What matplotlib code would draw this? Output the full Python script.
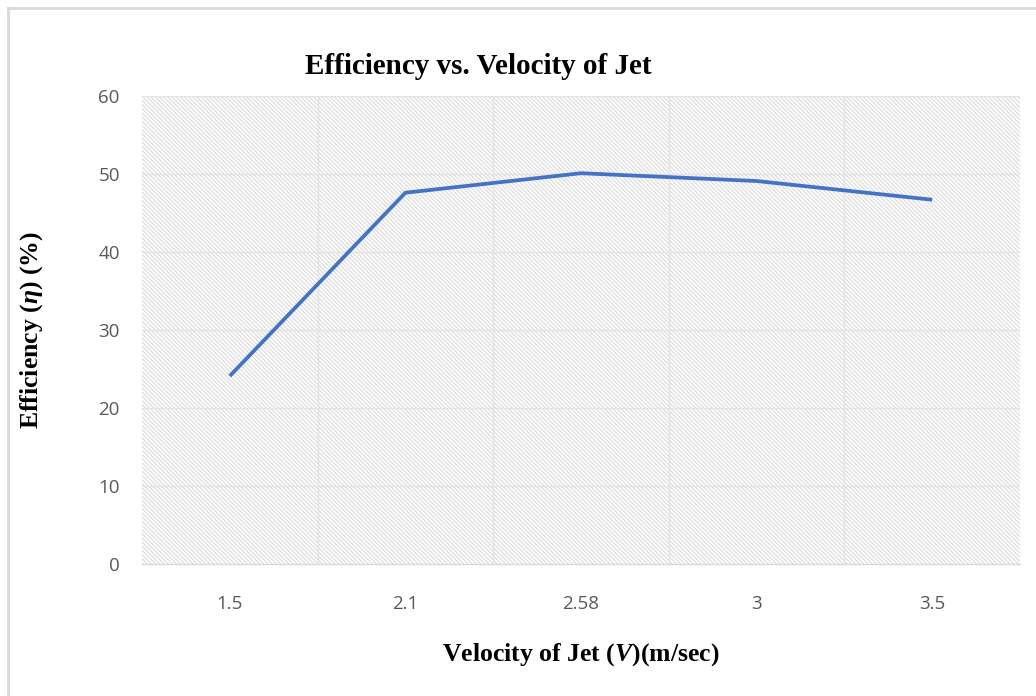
import matplotlib
matplotlib.use("Agg")
import matplotlib.pyplot as plt
from matplotlib.lines import Line2D

# Data
velocity = ["1.5", "2.1", "2.58", "3", "3.5"]
efficiency = [24.1, 47.6, 50.1, 49.1, 46.7]
y_ticks = [0, 10, 20, 30, 40, 50, 60]

plt.rcParams['mathtext.fontset'] = 'custom'
plt.rcParams['mathtext.it'] = 'Liberation Serif:italic:bold'
plt.rcParams['mathtext.rm'] = 'Liberation Serif:bold'
plt.rcParams['hatch.color'] = '#dadada'
plt.rcParams['hatch.linewidth'] = 0.8

W, H = 1036, 696
fig = plt.figure(figsize=(W / 100, H / 100), dpi=100)
ax = fig.add_axes([142 / W, 1 - 564 / H, 878 / W, 468 / H])

# Hatched plot area
ax.set_facecolor('white')
ax.patch.set_hatch('\\' * 8)
ax.patch.set_edgecolor('#dadada')
ax.patch.set_linewidth(0)

x = list(range(len(velocity)))
ax.plot(x, efficiency, color='#4472C4', linewidth=2.7, solid_capstyle='butt', zorder=3)

ax.set_xlim(-0.5, len(velocity) - 0.5)
ax.set_ylim(0, 60)
ax.set_yticks(y_ticks)
ax.set_xticks(x)
ax.set_xticklabels(velocity)

# grid: horizontal at major ticks, vertical at category boundaries
for yv in y_ticks[1:]:
    ax.axhline(yv, color='#e3e3e3', linewidth=1.0, zorder=1)
for b in range(1, len(velocity)):
    ax.axvline(b - 0.5, color='#e3e3e3', linewidth=1.0, zorder=1)

for s in ['top', 'right', 'left']:
    ax.spines[s].set_visible(False)
ax.spines['bottom'].set_color('#d9d9d9')
ax.spines['bottom'].set_linewidth(1.0)

ax.tick_params(length=0, labelsize=13.5, labelcolor='#595959')
ax.tick_params(axis='y', pad=16)
ax.tick_params(axis='x', pad=22)
for lab in ax.get_xticklabels() + ax.get_yticklabels():
    lab.set_family('Open Sans')

fig.text(478 / W, 1 - 67 / H, 'Efficiency vs. Velocity of Jet', ha='center', va='center',
         family='Liberation Serif', fontweight='bold', fontsize=21)
fig.text(581 / W, 1 - 655 / H, r'Velocity of Jet ($V$)(m/sec)', ha='center', va='center',
         family='Liberation Serif', fontweight='bold', fontsize=18.5)
fig.text(32 / W, 1 - 330 / H, r'Efficiency ($\eta$) (%)', ha='center', va='center',
         rotation=90, family='Liberation Serif', fontweight='bold', fontsize=18.5)

# outer frame (top and left visible)
fig.add_artist(Line2D([8 / W, 1], [1 - 8 / H, 1 - 8 / H], color='#d9d9d9', linewidth=2,
                      transform=fig.transFigure))
fig.add_artist(Line2D([8 / W, 8 / W], [0, 1 - 8 / H], color='#d9d9d9', linewidth=2,
                      transform=fig.transFigure))

fig.savefig('out.png', dpi=100)
